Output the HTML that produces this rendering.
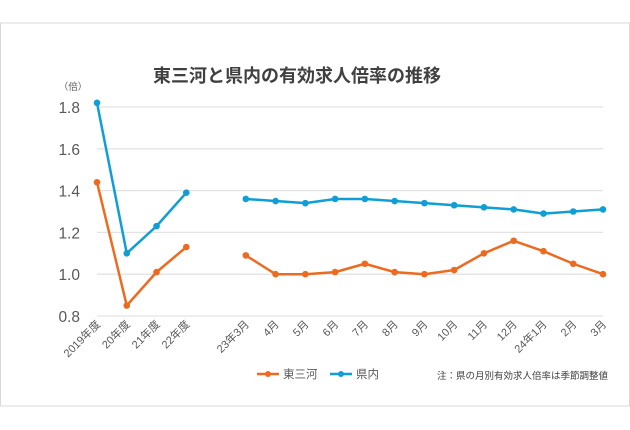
<!DOCTYPE html>
<html><head><meta charset="utf-8"><style>
body{margin:0;background:#fff;}
svg{display:block;font-family:"Liberation Sans","Noto Sans CJK JP",sans-serif;}
</style></head><body>
<svg width="630" height="430" viewBox="0 0 630 430">
<rect x="0.5" y="23" width="629" height="383" fill="#fff" stroke="#d9d9d9"/>
<text x="297" y="82" text-anchor="middle" font-size="18" font-weight="bold" fill="#404040" font-family="'Noto Sans CJK JP',sans-serif">東三河と県内の有効求人倍率の推移</text>
<text x="73" y="90" text-anchor="middle" font-size="9.5" fill="#595959" font-family="'Noto Sans CJK JP',sans-serif">（倍）</text>
<g id="grid"></g><g id="xlabels"></g><g id="series"></g>
<g>
<line x1="257" y1="374" x2="279" y2="374" stroke="#ed6b21" stroke-width="2.5"/><circle cx="268" cy="374" r="3" fill="#ed6b21"/>
<text x="283" y="378" font-size="11.5" fill="#595959" font-family="'Noto Sans CJK JP',sans-serif">東三河</text>
<line x1="330" y1="374" x2="352" y2="374" stroke="#0f9ed5" stroke-width="2.5"/><circle cx="341" cy="374" r="3" fill="#0f9ed5"/>
<text x="356" y="378" font-size="11.5" fill="#595959" font-family="'Noto Sans CJK JP',sans-serif">県内</text>
</g>
<text x="608" y="379" text-anchor="end" font-size="9.5" fill="#404040" font-family="'Noto Sans CJK JP',sans-serif">注：県の月別有効求人倍率は季節調整値</text>
</svg>
<script>
const categories=["2019年度","20年度","21年度","22年度","","23年3月","4月","5月","6月","7月","8月","9月","10月","11月","12月","24年1月","2月","3月"];
const higashimikawa=[1.44,0.85,1.01,1.13,null,1.09,1.00,1.00,1.01,1.05,1.01,1.00,1.02,1.10,1.16,1.11,1.05,1.00];
const kennai=[1.82,1.10,1.23,1.39,null,1.36,1.35,1.34,1.36,1.36,1.35,1.34,1.33,1.32,1.31,1.29,1.30,1.31];
const yTicks=[0.8,1.0,1.2,1.4,1.6,1.8];
const NS="http://www.w3.org/2000/svg";
const x0=97,x1=603,yMin=0.8,yMax=1.8,yTop=107,yBot=316;
const xs=i=>x0+i*(x1-x0)/(categories.length-1);
const ys=v=>yBot-(v-yMin)/(yMax-yMin)*(yBot-yTop);
function mk(t,a,p){const e=document.createElementNS(NS,t);for(const k in a)e.setAttribute(k,a[k]);p.appendChild(e);return e;}
const grid=document.getElementById('grid');
yTicks.forEach(v=>{
 const l=mk('line',{x1:x0,x2:x1,y1:ys(v),y2:ys(v),stroke:'#e3e3e3','stroke-width':1.3},grid);
 
 
 const t=mk('text',{x:80,y:ys(v)+6,'text-anchor':'end','font-size':15.5,fill:'#595959'},grid);
 t.textContent=v.toFixed(1);
 
 
});
const xl=document.getElementById('xlabels');
categories.forEach((c,i)=>{
 if(!c)return;
 const t=mk('text',{x:0,y:0,'text-anchor':'end','font-size':11,fill:'#595959','font-family':"'Liberation Sans','Noto Sans CJK JP',sans-serif",transform:`translate(${xs(i)+4},${325}) rotate(-45)`},xl);
 t.textContent=c;
 
 
});
const sg=document.getElementById('series');
function draw(vals,color,name){
 let segs=[],cur=[];
 vals.forEach((v,i)=>{if(v==null){if(cur.length)segs.push(cur);cur=[];}else cur.push([xs(i),ys(v)]);});
 if(cur.length)segs.push(cur);
 segs.forEach(s=>{
  const p=mk('polyline',{points:s.map(q=>q.join(',')).join(' '),fill:'none',stroke:color,'stroke-width':2.5,'stroke-linejoin':'round'},sg);
  
  
 });
 vals.forEach((v,i)=>{if(v==null)return;
  const c=mk('circle',{cx:xs(i),cy:ys(v),r:3.3,fill:color},sg);
  
  
 });
}
draw(higashimikawa,'#ed6b21','higashimikawa');
draw(kennai,'#0f9ed5','kennai');
</script>
</body></html>
